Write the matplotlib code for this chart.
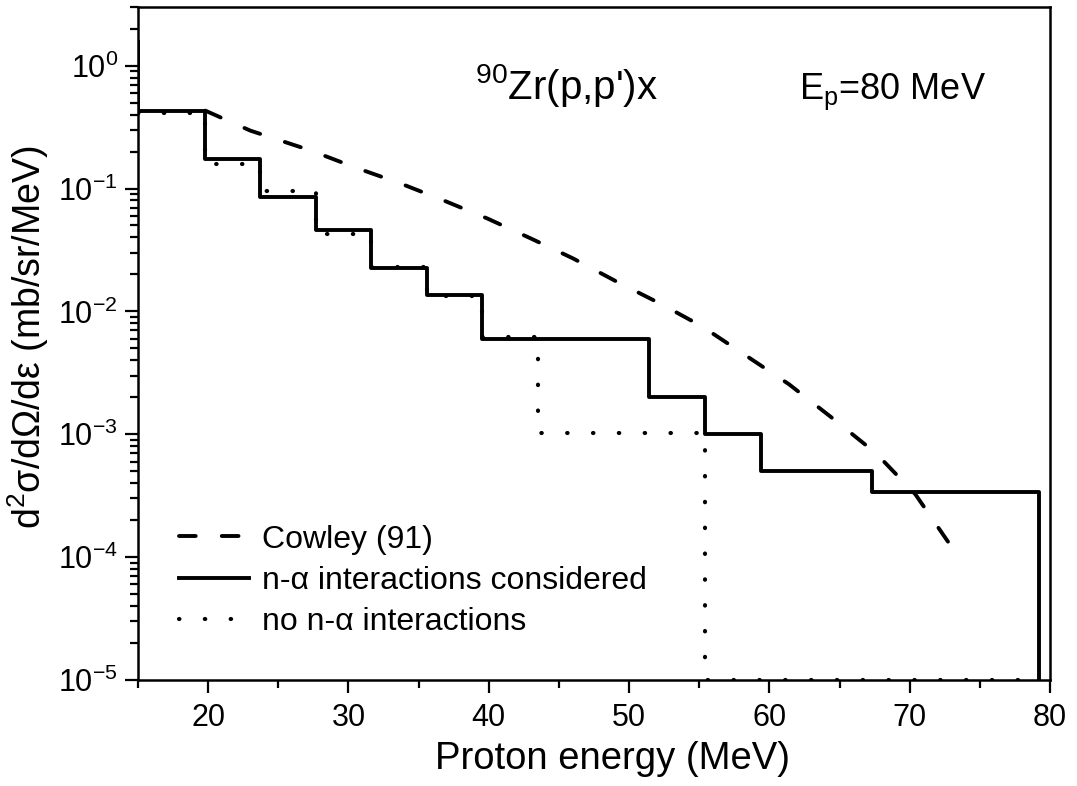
import matplotlib
matplotlib.use("Agg")
import matplotlib.pyplot as plt
import numpy as np
from matplotlib.ticker import FuncFormatter, MultipleLocator, LogLocator, NullFormatter

plt.rcParams['font.family'] = ['Liberation Sans', 'DejaVu Sans']
plt.rcParams['mathtext.fontset'] = 'custom'
plt.rcParams['mathtext.rm'] = 'Liberation Sans'
plt.rcParams['mathtext.it'] = 'Liberation Sans:italic'
plt.rcParams['mathtext.bf'] = 'Liberation Sans:bold'

# n-alpha interactions considered (histogram bins)
solid_edges = [15.0, 19.8, 23.7, 27.7, 31.6, 35.6, 39.5, 51.4, 55.4, 59.4, 67.3, 79.2]
solid_vals = [0.43, 0.175, 0.085, 0.0456, 0.0226, 0.0137, 0.0060, 0.0020, 0.0010, 0.0005, 0.000336]
solid_start = 1.55

# no n-alpha interactions
dot_edges = [15.0, 19.8, 23.7, 27.7, 31.6, 35.6, 39.5, 43.5, 55.4, 79.2]
dot_vals = [0.41, 0.157, 0.095, 0.0423, 0.0228, 0.0133, 0.0062, 0.00103, 1e-5]

# Cowley (91)
cowley_e = [19.8, 23.0, 27.3, 30.5, 33.7, 36.8, 39.9, 43.0, 46.0, 49.1, 52.2,
            55.2, 58.3, 61.4, 64.5, 67.6, 70.4, 72.8]
cowley_v = [0.43, 0.296, 0.204, 0.148, 0.110, 0.0798, 0.057, 0.0392, 0.027, 0.0175,
            0.0116, 0.00755, 0.00439, 0.00255, 0.00135, 0.0007, 0.000325, 0.00013]


def steps(edges, vals, y0, y1):
    x = np.repeat(edges, 2)
    y = np.concatenate([[y0], np.repeat(vals, 2), [y1]])
    return x, y


W, H = 1077, 786
fig = plt.figure(figsize=(W / 100, H / 100), dpi=100)
ax = fig.add_axes([138 / W, 1 - 680 / H, 912 / W, 673 / H])

lw = 2.8
ax.plot(cowley_e, cowley_v, color='k', lw=lw, dashes=(4.3, 6.7),
        dash_capstyle='round', label='Cowley (91)')
sx, sy = steps(solid_edges, solid_vals, solid_start, 1e-7)
ax.plot(sx, sy, color='k', lw=lw, label='n-α interactions considered')
dx, dy = steps(dot_edges, dot_vals, dot_vals[0], dot_vals[-1])
ax.plot(dx, dy, color='k', lw=3.0, dashes=(0.1, 6.1), dash_capstyle='round',
        label='no n-α interactions')

ax.set_yscale('log')
ax.set_xlim(15, 80)
ax.set_ylim(1e-5, 3)

ax.xaxis.set_major_locator(MultipleLocator(10))
ax.xaxis.set_minor_locator(MultipleLocator(5))
ax.yaxis.set_major_locator(LogLocator(base=10, numticks=20))
ax.yaxis.set_minor_locator(LogLocator(base=10, subs=np.arange(2, 10), numticks=20))
ax.yaxis.set_minor_formatter(NullFormatter())
ax.yaxis.set_major_formatter(FuncFormatter(
    lambda v, pos: r'$\mathregular{10^{%d}}$' % int(round(np.log10(v)))))

for s in ax.spines.values():
    s.set_linewidth(1.8)
ax.tick_params(which='major', direction='out', length=9.5, width=1.6, labelsize=22, pad=5)
ax.tick_params(axis='x', which='major', pad=7)
ax.tick_params(which='minor', direction='out', length=5.5, width=1.6)
ax.tick_params(top=False, right=False, which='both')

ax.set_xlabel('Proton energy (MeV)', fontsize=27.5, labelpad=6, x=0.52)
ax.set_ylabel(r'd$^\mathregular{2}$σ/dΩ/dε (mb/sr/MeV)', fontsize=27, labelpad=5, y=0.51)

ax.text(0.570, 0.864, r"$^\mathregular{90}$Zr(p,p')x", transform=ax.transAxes,
        fontsize=29, ha='right', va='baseline')
ax.text(0.725, 0.864, r"E$_\mathregular{p}$=80 MeV", transform=ax.transAxes,
        fontsize=26, ha='left', va='baseline')

ax.legend(loc='upper left', bbox_to_anchor=(0.045, 0.231), frameon=False,
          fontsize=23, handlelength=2.2, handletextpad=0.4, labelspacing=0.35,
          borderpad=0, borderaxespad=0)

fig.savefig('out.png', dpi=100)
